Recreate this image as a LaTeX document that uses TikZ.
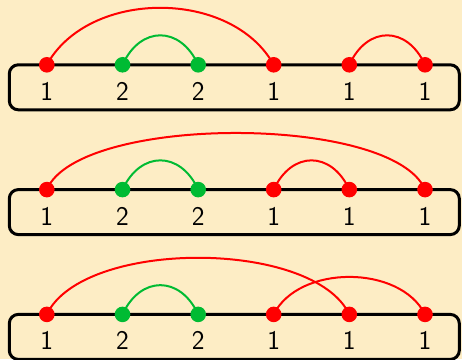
\documentclass[tikz,border=0pt]{standalone}
\usepackage{xcolor}
\definecolor{bgc}{RGB}{253,237,197}
\definecolor{myred}{RGB}{255,0,0}
\definecolor{mygreen}{RGB}{0,187,51}
\pgfdeclarelayer{back}
\pgfdeclarelayer{arcs}
\pgfsetlayers{back,arcs,main}
% #1 colour, #2 start, #3 end, #4 control height, #5 control horizontal offset
\newcommand\myarc[5]{\draw[arcline,#1] (#2.center) .. controls +(#5,#4) and +(-#5,#4) .. (#3.center);}
\begin{document}
\begin{tikzpicture}[x=1pt,y=1pt,
  boxline/.style={line width=3pt, rounded corners=9pt},
  dotn/.style={circle, inner sep=0pt, minimum size=15.6pt},
  lab/.style={font=\sffamily\fontsize{27}{30}\selectfont, inner sep=0pt},
  arcline/.style={line width=2pt}]
\begin{pgfonlayer}{back}
\fill[bgc] (0,0) rectangle (462,359);
\end{pgfonlayer}
\useasboundingbox (0,0) rectangle (462,359);
\foreach \r/\Y in {1/294.2, 2/169.4, 3/44.6} {
  \draw[boxline] (9.3,\Y) rectangle (459.3,\Y-45);
  \foreach \i/\x/\c/\t in {1/46.8/myred/1, 2/122.5/mygreen/2, 3/198.2/mygreen/2, 4/273.7/myred/1, 5/349.3/myred/1, 6/425/myred/1} {
    \node[dotn, fill=\c] (d\r\i) at (\x,\Y) {};
    \node[lab] (l\r\i) at (\x,\Y-26.5) {\t};
  }
}
\begin{pgfonlayer}{arcs}
\myarc{myred}{d11}{d14}{76}{42}
\myarc{mygreen}{d12}{d13}{39.3}{18}
\myarc{myred}{d15}{d16}{39.3}{18}
\myarc{myred}{d21}{d26}{75.5}{32}
\myarc{mygreen}{d22}{d23}{39}{18}
\myarc{myred}{d24}{d25}{39}{18}
\myarc{myred}{d31}{d35}{75.5}{36}
\myarc{mygreen}{d32}{d33}{39}{18}
\myarc{myred}{d34}{d36}{50}{25}
\end{pgfonlayer}
\end{tikzpicture}
\end{document}
